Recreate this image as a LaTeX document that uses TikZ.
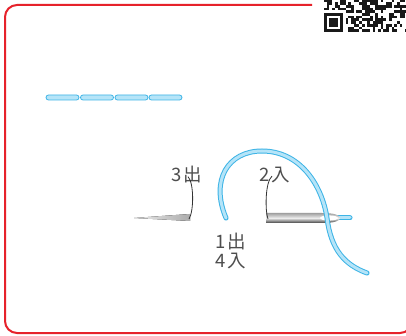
\documentclass[tikz,border=0pt]{standalone}
\usepackage{fontspec}
\newfontfamily\jp{Noto Sans CJK JP}
\usepackage{tikz}
\usetikzlibrary{calc,positioning}
\definecolor{framered}{HTML}{E6222B}
\definecolor{threadblue}{HTML}{3DB4E6}
\definecolor{threadlight}{HTML}{B5E4F8}
\definecolor{textgray}{HTML}{3A3A3A}
\newcommand{\gap}{\kern1.5pt}
\tikzset{
	frame/.style={draw=framered, line width=2, rounded corners=12},
	thread/.style={
		line width=3, draw=threadlight, line cap=round,
		preaction={draw=threadblue, line width=5, line cap=round}
	},
	stitch/.style={
		draw=threadblue, fill=threadlight, line width=0.8,
		rectangle, rounded corners=2.5, minimum width=33,
		minimum height=5, inner sep=0pt
	},
	label/.style={
		font=\jp\fontsize{18.5}{20}\selectfont, text=textgray!90,
		inner sep=0pt
	},
	leader/.style={draw=black!80, line width=0.8},
	qrdot/.style={fill=black!90}
}
\begin{document}
\begin{tikzpicture}[x=1pt,y=-1pt]
	\clip (0,0) rectangle (406,336);
	\fill[white] (0,0) rectangle (406,336);

	\draw[frame] (312,5) -- (5,5) -- (5,333) -- (412,333) -- (412,5);

	\begin{scope}[shift={(324,32)}]
		\pgfmathsetseed{17}
		\foreach \c in {0,...,30}
			\foreach \r in {0,...,11}{
				\pgfmathtruncatemacro\on{((\c>7)||(\r>7))&&(rnd>0.5) ? 1 : 0}
				\ifnum\on=1
					\fill[qrdot] (2.7*\c,-2.7*\r) rectangle ++(2.75,-2.75);
				\fi
			}
		\fill[qrdot] (0,0) rectangle (18.9,-18.9);
		\fill[white] (2.7,-2.7) rectangle (16.2,-16.2);
		\fill[qrdot] (5.4,-5.4) rectangle (13.5,-13.5);
	\end{scope}

	\foreach \i/\x in {1/62.5,2/97,3/131.5,4/165.5}
		\node[stitch] (s\i) at (\x,97.5) {};

	\draw[thread] (336,218) -- (350,218);
	\fill[left color=gray!15, right color=gray!65]
		(134,218) -- (190,214) -- (190,221) -- cycle;
	\shade[top color=gray!75, bottom color=black!75, middle color=gray!15]
		(266,213) -- (322,213) .. controls (334,213) and (340,215) .. (340,218)
		.. controls (340,221) and (334,223) .. (322,223) -- (266,223) -- cycle;
	\fill[white] (329,218) ellipse [x radius=9, y radius=2.6];

	\draw[thread] (226,218) .. controls (210,180) and (228,151) .. (262,151)
		.. controls (300,151) and (322,185) .. (327,218)
		.. controls (331,250) and (345,265) .. (367,273);

	\node[label] (three) at (187,175) {3\gap 出};
	\node[label] (two) at (275,175) {2\gap 入};
	\node[label] (one) at (231,242) {1\gap 出};
	\node[label, below=2pt of one] (four) {4\gap 入};

	\coordinate (tipA) at (189,219);
	\coordinate (tipB) at (268,219);
	\draw[leader] ([xshift=1,yshift=7]three.south) .. controls ++(6,6) and ++(5,-8) .. (tipA);
	\draw[leader] ([xshift=-3,yshift=7]two.south) .. controls ++(-7,6) and ++(-3,-8) .. (tipB);
\end{tikzpicture}
\end{document}
